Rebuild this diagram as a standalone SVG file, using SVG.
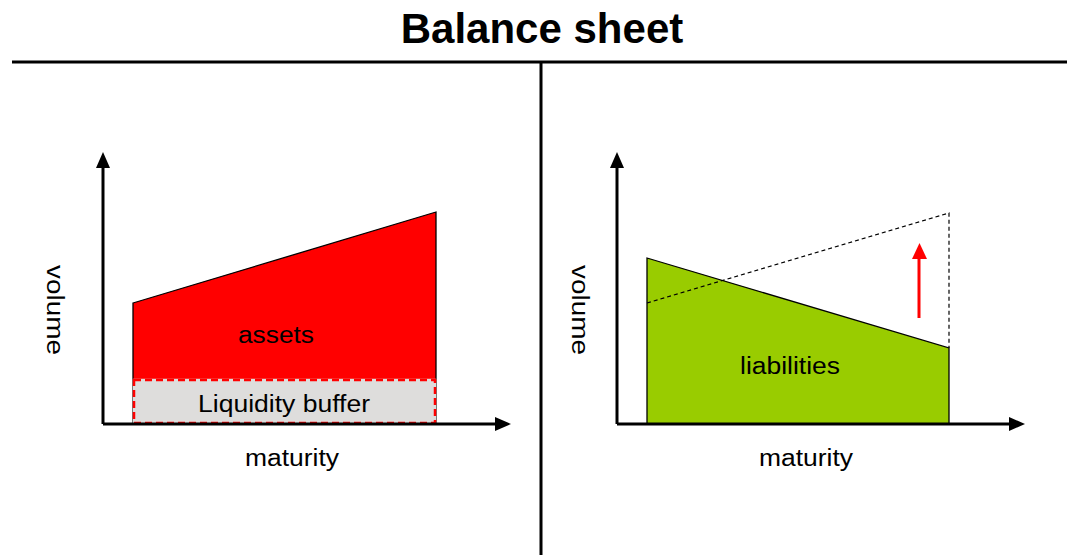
<svg xmlns="http://www.w3.org/2000/svg" width="1067" height="555" viewBox="0 0 1067 555">
<style>
text{font-family:"Liberation Sans",Arial,sans-serif;fill:#000}
.lbl{font-size:23px;text-anchor:middle}
.edge{stroke:#000;stroke-width:1.3}
#connectors line{stroke:#000;stroke-width:3}
#connectors .red{stroke:#ff0000}
</style>
<rect width="1067" height="555" fill="#fff"/>
<text x="542" y="43" font-size="42" font-weight="bold" text-anchor="middle">Balance sheet</text>
<g id="frame">
<line x1="12" y1="62" x2="1067" y2="62" stroke="#000" stroke-width="3"/>
<line x1="541" y1="62" x2="541" y2="555" stroke="#000" stroke-width="3"/>
</g>
<g id="left-chart">
<polygon id="assets" points="133,303 436,212 436,424 133,424" fill="#ff0000" class="edge"/>
<rect x="134" y="380" width="301" height="43" fill="#dedddc" stroke="#dedddc" stroke-width="2.5"/>
<rect id="buffer" x="134" y="380" width="301" height="43" fill="none" stroke="#ff0000" stroke-width="2.5" stroke-dasharray="7,4"/>
<text class="lbl" x="276" y="343" textLength="76" lengthAdjust="spacingAndGlyphs">assets</text>
<text class="lbl" x="284" y="412" textLength="172" lengthAdjust="spacingAndGlyphs">Liquidity buffer</text>
</g>
<g id="right-chart">
<polygon id="liabilities" points="647,258 949,348 949,424 647,424" fill="#99cc00" class="edge"/>
<polyline points="647,303 949,213 949,348" fill="none" stroke="#000" stroke-width="1.2" stroke-dasharray="4,3"/>
<text class="lbl" x="790" y="374" textLength="100" lengthAdjust="spacingAndGlyphs">liabilities</text>
</g>
<g id="connectors">
<line x1="103" y1="424" x2="103" y2="168"/>
<polygon points="96,168 110,168 103,152" fill="#000"/>
<line x1="103" y1="424" x2="495" y2="424"/>
<polygon points="495,417 495,431 511,424" fill="#000"/>
<line x1="617" y1="424" x2="617" y2="168"/>
<polygon points="610,168 624,168 617,152" fill="#000"/>
<line x1="617" y1="424" x2="1009" y2="424"/>
<polygon points="1009,417 1009,431 1025,424" fill="#000"/>
<line class="red" x1="919" y1="318" x2="919" y2="258" stroke-width="3"/>
<polygon points="912,259 927,259 919.5,243" fill="#ff0000"/>
</g>
<g id="axis-labels">
<text class="lbl" transform="translate(47,310) rotate(90)" textLength="90" lengthAdjust="spacingAndGlyphs">volume</text>
<text class="lbl" x="292" y="466" textLength="94" lengthAdjust="spacingAndGlyphs">maturity</text>
<text class="lbl" transform="translate(572,310) rotate(90)" textLength="90" lengthAdjust="spacingAndGlyphs">volume</text>
<text class="lbl" x="806" y="466" textLength="94" lengthAdjust="spacingAndGlyphs">maturity</text>
</g>
</svg>
